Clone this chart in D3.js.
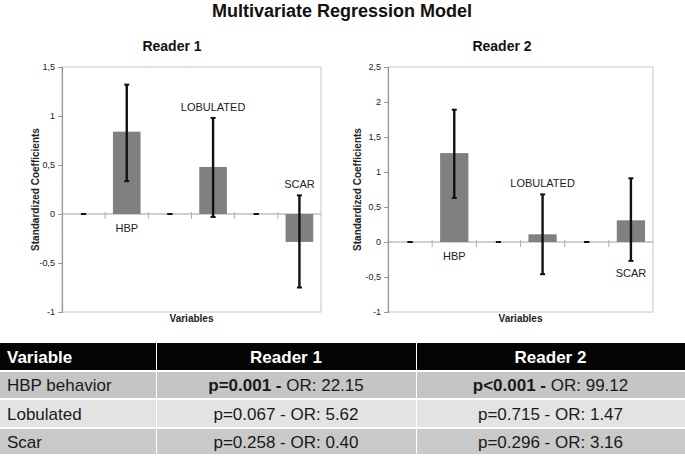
<!DOCTYPE html>
<html>
<head>
<meta charset="utf-8">
<script src="https://cdn.jsdelivr.net/npm/d3@7"></script>
<style>
  body { margin: 0; background: #fff; }
  svg { font-family: Arial, "Liberation Sans", sans-serif; display: block; }
</style>
</head>
<body>
<svg id="fig" width="685" height="456"></svg>
<script>
// slots on the x axis (empty slots between variables, as in the original Excel chart)
var slots = ["s1", "HBP", "s2", "LOBULATED", "s3", "SCAR"];
var slotLabels = ["", "HBP", "", "LOBULATED", "", "SCAR"];

// Reader 1 standardized coefficients and error bar ends
var r1Values = [0, 0.84, 0, 0.48, 0, -0.285];
var r1Low = [0, 0.335, 0, -0.03, 0, -0.75];
var r1High = [0, 1.32, 0, 0.98, 0, 0.19];

// Reader 2
var r2Values = [0, 1.27, 0, 0.11, 0, 0.31];
var r2Low = [0, 0.63, 0, -0.46, 0, -0.27];
var r2High = [0, 1.89, 0, 0.68, 0, 0.91];

var r1Ticks = [-1, -0.5, 0, 0.5, 1, 1.5];
var r2Ticks = [-1, -0.5, 0, 0.5, 1, 1.5, 2, 2.5];

// table
var tableHeader = ["Variable", "Reader 1", "Reader 2"];
var tableVars = ["HBP behavior", "Lobulated", "Scar"];
var r1P = ["p=0.001", "p=0.067", "p=0.258"];
var r1OR = ["22.15", "5.62", "0.40"];
var r2P = ["p<0.001", "p=0.715", "p=0.296"];
var r2OR = ["99.12", "1.47", "3.16"];
var boldP = [true, false, false];

var svg = d3.select("#fig");

svg.append("text")
  .attr("x", 342).attr("y", 17)
  .attr("text-anchor", "middle")
  .style("font-size", "18px").style("font-weight", "bold")
  .attr("fill", "#111")
  .text("Multivariate Regression Model");

// where each label sits: below zero line, or above the error bar top / below its bottom
function drawChart(opts) {
  var g = svg.append("g");

  var x = d3.scaleBand().domain(slots).range([opts.left, opts.right]).paddingInner(0).paddingOuter(0);
  var y = d3.scaleLinear().domain(opts.domain).range([312, 67]);

  g.append("text")
    .attr("x", opts.titleX).attr("y", 51)
    .attr("text-anchor", "middle")
    .style("font-size", "14px").style("font-weight", "bold")
    .attr("fill", "#111")
    .text(opts.title);

  // plot frame
  g.append("rect")
    .attr("x", opts.left).attr("y", y.range()[1])
    .attr("width", opts.right - opts.left).attr("height", y.range()[0] - y.range()[1])
    .attr("fill", "none").attr("stroke", "#cfcfcf").attr("stroke-width", 1.2);

  var yAxis = d3.axisLeft(y)
    .tickValues(opts.ticks)
    .tickSize(4)
    .tickFormat(function (d) { return String(d).replace(".", ","); });

  var ya = g.append("g")
    .attr("transform", "translate(" + opts.left + ",0)")
    .call(yAxis);
  ya.select(".domain").attr("stroke", "#999").attr("stroke-width", 1.2);
  ya.selectAll(".tick line").attr("stroke", "#999");
  ya.selectAll(".tick text")
    .attr("fill", "#222")
    .style("font-size", "9px")
    .style("font-family", "Arial, 'Liberation Sans', sans-serif");

  var y0 = y(0);

  // zero line + slot ticks
  g.append("line")
    .attr("x1", opts.left).attr("x2", opts.right)
    .attr("y1", y0).attr("y2", y0)
    .attr("stroke", "#a0a0a0").attr("stroke-width", 1.2);

  g.selectAll(".xtick")
    .data(slots.slice(1))
    .enter().append("line")
    .attr("x1", function (d) { return x(d); })
    .attr("x2", function (d) { return x(d); })
    .attr("y1", y0 - 2).attr("y2", y0 + 5)
    .attr("stroke", "#b0b0b0");

  var bw = x.bandwidth() * 0.64;

  g.selectAll(".bar")
    .data(opts.values)
    .enter().append("rect")
    .attr("x", function (d, i) { return x(slots[i]) + x.bandwidth() / 2 - bw / 2; })
    .attr("y", function (d) { return Math.min(y(d), y0); })
    .attr("width", bw)
    .attr("height", function (d) { return Math.abs(y(d) - y0); })
    .attr("fill", "#808080");

  // error bars
  var eb = g.selectAll(".err")
    .data(opts.values)
    .enter().append("g")
    .attr("transform", function (d, i) { return "translate(" + (x(slots[i]) + x.bandwidth() / 2) + ",0)"; });

  eb.append("line")
    .attr("y1", function (d, i) { return y(opts.low[i]); })
    .attr("y2", function (d, i) { return y(opts.high[i]); })
    .attr("stroke", "#111").attr("stroke-width", 2.4);
  eb.append("line")
    .attr("x1", -2.5).attr("x2", 2.5)
    .attr("y1", function (d, i) { return y(opts.low[i]); })
    .attr("y2", function (d, i) { return y(opts.low[i]); })
    .attr("stroke", "#111").attr("stroke-width", 2);
  eb.append("line")
    .attr("x1", -2.5).attr("x2", 2.5)
    .attr("y1", function (d, i) { return y(opts.high[i]); })
    .attr("y2", function (d, i) { return y(opts.high[i]); })
    .attr("stroke", "#111").attr("stroke-width", 2);

  // variable labels
  g.selectAll(".lbl")
    .data(slotLabels)
    .enter().append("text")
    .filter(function (d) { return d !== ""; })
    .attr("x", function (d) { return x(slots[slotLabels.indexOf(d)]) + x.bandwidth() / 2; })
    .attr("y", function (d) {
      var i = slotLabels.indexOf(d);
      var pos = opts.labelPos[i];
      if (pos === "zero") return y0 + 18;
      if (pos === "above") return y(opts.high[i]) - 7;
      return y(opts.low[i]) + 16;
    })
    .attr("text-anchor", "middle")
    .style("font-size", "11px")
    .attr("fill", "#222")
    .text(function (d) { return d; });

  g.append("text")
    .attr("transform", "translate(" + opts.yTitleX + "," + ((y.range()[0] + y.range()[1]) / 2) + ") rotate(-90)")
    .attr("text-anchor", "middle")
    .attr("dy", "0.35em")
    .style("font-size", "10px").style("font-weight", "bold")
    .attr("fill", "#222")
    .text("Standardized Coefficients");

  g.append("text")
    .attr("x", (opts.left + opts.right) / 2).attr("y", 322)
    .attr("text-anchor", "middle")
    .style("font-size", "10px").style("font-weight", "bold")
    .attr("fill", "#222")
    .text("Variables");
}

drawChart({
  title: "Reader 1", titleX: 172,
  left: 62, right: 321, domain: [-1, 1.5], ticks: r1Ticks,
  values: r1Values, low: r1Low, high: r1High,
  labelPos: ["", "zero", "", "above", "", "above"],
  yTitleX: 35
});

drawChart({
  title: "Reader 2", titleX: 502,
  left: 388, right: 653, domain: [-1, 2.5], ticks: r2Ticks,
  values: r2Values, low: r2Low, high: r2High,
  labelPos: ["", "zero", "", "above", "", "below"],
  yTitleX: 357
});

// ---- table ----
var colX = [0, 156, 416, 685];
var rowY = [343, 372, 400, 429, 456];
var rowFill = ["#050505", "#c5c5c5", "#e3e3e3", "#c9c9c9"];

var tbl = svg.append("g");

for (var r = 0; r < 4; r++) {
  for (var c = 0; c < 3; c++) {
    tbl.append("rect")
      .attr("x", colX[c] + (c > 0 ? 1 : 0))
      .attr("y", rowY[r])
      .attr("width", colX[c + 1] - colX[c] - (c > 0 ? 1 : 0))
      .attr("height", rowY[r + 1] - rowY[r] - 2)
      .attr("fill", rowFill[r]);
  }
}

tbl.selectAll(".hdr")
  .data(tableHeader)
  .enter().append("text")
  .attr("x", function (d, i) { return i === 0 ? 7 : (colX[i] + colX[i + 1]) / 2; })
  .attr("y", (rowY[0] + rowY[1]) / 2 + 5)
  .attr("text-anchor", function (d, i) { return i === 0 ? "start" : "middle"; })
  .attr("fill", "#fff")
  .style("font-size", "17px").style("font-weight", "bold")
  .text(function (d) { return d; });

tbl.selectAll(".var")
  .data(tableVars)
  .enter().append("text")
  .attr("x", 7)
  .attr("y", function (d, i) { return (rowY[i + 1] + rowY[i + 2]) / 2 + 5; })
  .attr("fill", "#1a1a1a")
  .style("font-size", "17px")
  .text(function (d) { return d; });

function cellText(col, pVals, orVals) {
  var t = tbl.selectAll(".c" + col)
    .data(pVals)
    .enter().append("text")
    .attr("x", (colX[col] + colX[col + 1]) / 2)
    .attr("y", function (d, i) { return (rowY[i + 1] + rowY[i + 2]) / 2 + 5; })
    .attr("text-anchor", "middle")
    .attr("fill", "#1a1a1a")
    .style("font-size", "17px");
  t.append("tspan")
    .style("font-weight", function (d, i) { return boldP[i] ? "bold" : "normal"; })
    .text(function (d, i) { return boldP[i] ? d + " -" : d + " - "; });
  t.append("tspan")
    .text(function (d, i) { return (boldP[i] ? " " : "") + "OR: " + orVals[i]; });
}
cellText(1, r1P, r1OR);
cellText(2, r2P, r2OR);
</script>
</body>
</html>
